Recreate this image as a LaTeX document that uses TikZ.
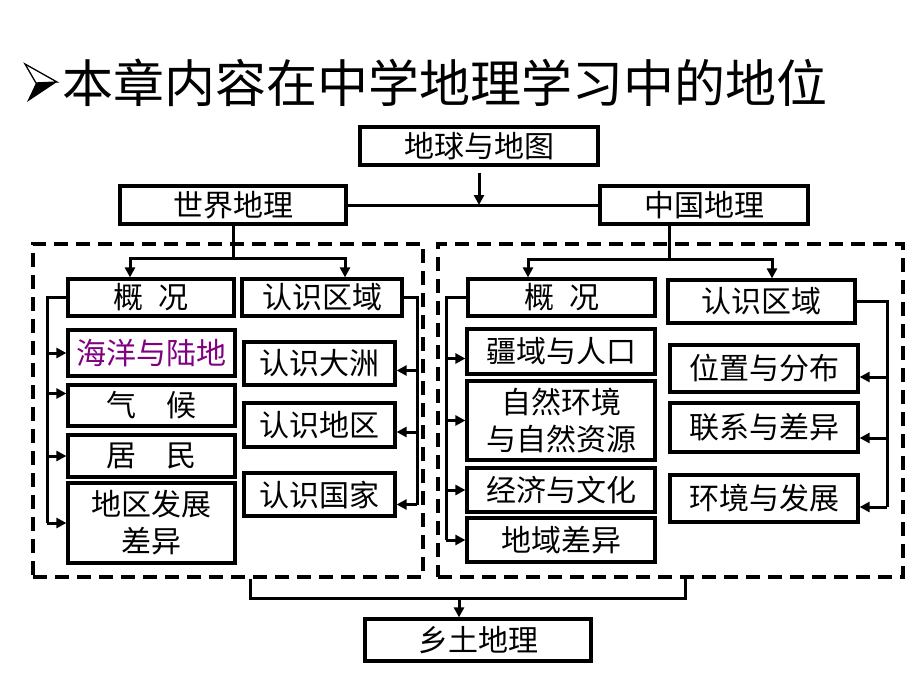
\documentclass[tikz,border=0pt]{standalone}
\usepackage{fontspec}
\setmainfont{Noto Sans CJK SC}
\usetikzlibrary{arrows.meta}
\definecolor{purp}{RGB}{128,0,128}
\begin{document}
\begin{tikzpicture}[x=1pt,y=-1pt,
  bx/.style={draw, line width=3.2pt, inner sep=0pt, font=\fontsize{30}{37}\selectfont, align=center},
  con/.style={line width=3pt},
  arr/.style={line width=3pt, -{Triangle[length=10pt,width=10pt]}},
  dbox/.style={draw, line width=3.5pt, dash pattern=on 14pt off 8pt, inner sep=0pt}]
\useasboundingbox[fill=white] (0,0) rectangle (920,690);

% title bullet (arrowhead mark)
\draw[line width=1.3pt, line join=miter] (25,64) -- (57,82) -- (36,83) -- cycle;
\fill (36,83) -- (57,82) -- (27,102) -- cycle;
\node[anchor=west, inner sep=0pt, font=\fontsize{51}{51}\selectfont] (title) at (62,83) {本章内容在中学地理学习中的地位};

% dashed frames
\node[dbox, minimum width=390pt, minimum height=333pt] (Lbox) at (228,410.5) {};
\node[dbox, minimum width=465pt, minimum height=333pt] (Rbox) at (670.5,410.5) {};

% top level
\node[bx, minimum width=238pt, minimum height=38pt] (earth) at (479,146) {地球与地图};
\node[bx, minimum width=226pt, minimum height=38pt] (world) at (233,205) {世界地理};
\node[bx, minimum width=208pt, minimum height=38pt] (china) at (704,205) {中国地理};

% world geography
\node[bx, minimum width=166pt, minimum height=37pt] (Lgk) at (151,297.5) {概\hspace{0.5em}况};
\node[bx, minimum width=160pt, minimum height=37pt] (Lrs) at (322,297.5) {认识区域};
\node[bx, minimum width=167pt, minimum height=46pt, text=purp] (L1) at (151.5,353) {海洋与陆地};
\node[bx, minimum width=167pt, minimum height=41pt] (L2) at (151.5,405.5) {气\hspace{1em}候};
\node[bx, minimum width=167pt, minimum height=42pt] (L3) at (151.5,456) {居\hspace{1em}民};
\node[bx, minimum width=167pt, minimum height=80pt] (L4) at (151.5,523) {地区发展\\差异};
\node[bx, minimum width=151pt, minimum height=43pt] (R1) at (319.5,363.5) {认识大洲};
\node[bx, minimum width=151pt, minimum height=44pt] (R2) at (319.5,425) {认识地区};
\node[bx, minimum width=151pt, minimum height=43pt] (R3) at (319.5,494.5) {认识国家};

% china geography
\node[bx, minimum width=187pt, minimum height=37pt] (Cgk) at (561.5,297.5) {概\hspace{0.5em}况};
\node[bx, minimum width=187pt, minimum height=43pt] (Crs) at (761.5,301.5) {认识区域};
\node[bx, minimum width=188pt, minimum height=45pt] (C1) at (561,351.5) {疆域与人口};
\node[bx, minimum width=188pt, minimum height=79pt] (C2) at (561,420.5) {自然环境\\与自然资源};
\node[bx, minimum width=188pt, minimum height=44pt] (C3) at (561,490) {经济与文化};
\node[bx, minimum width=188pt, minimum height=44pt] (C4) at (561,540) {地域差异};
\node[bx, minimum width=188pt, minimum height=47pt] (D1) at (764,368.5) {位置与分布};
\node[bx, minimum width=188pt, minimum height=49pt] (D2) at (764,427.5) {联系与差异};
\node[bx, minimum width=188pt, minimum height=47pt] (D3) at (764,498.5) {环境与发展};

% home
\node[bx, minimum width=226pt, minimum height=42pt] (home) at (478,640) {乡土地理};

% top connectors
\draw[con] (world.east) -- (china.west);
\draw[arr, shorten <=6pt] (earth.south) -- (earth.south |- world.east);

% world split
\coordinate (LA) at (130,258);
\coordinate (LB) at (345,258);
\draw[arr] (world.south) |- (LA) -- (LA |- Lgk.north);
\draw[arr] (world.south |- LA) -| (LB |- Lrs.north);

% china split
\coordinate (CJ) at (669,259);
\coordinate (CA) at (528,259);
\coordinate (CB) at (772,259);
\draw[arr] (china.south -| CJ) |- (CA) -- (CA |- Cgk.north);
\draw[arr] (CJ) -| (CB |- Crs.north);

% world left bracket
\coordinate (Lbr) at (47,0);
\coordinate (L2a) at ([yshift=12pt]L2.west);
\draw[con] (Lgk.west) -| (Lbr |- L4.west);
\draw[arr] (Lbr |- L1.west) -- (L1.west);
\draw[arr] (Lbr |- L2a) -- (L2a);
\draw[arr] (Lbr |- L3.west) -- (L3.west);
\draw[arr] (Lbr |- L4.west) -- (L4.west);

% world right bracket
\coordinate (Rbr) at (417,0);
\coordinate (R1a) at ([yshift=-7pt]R1.east);
\coordinate (R2a) at ([yshift=-7pt]R2.east);
\coordinate (R3a) at ([yshift=-10pt]R3.east);
\draw[con] (Lrs.east) -| (Rbr |- R3a);
\draw[arr] (Rbr |- R1a) -- (R1a);
\draw[arr] (Rbr |- R2a) -- (R2a);
\draw[arr] (Rbr |- R3a) -- (R3a);

% china left bracket
\coordinate (Cbr) at (446,0);
\coordinate (C1a) at ([yshift=-7pt]C1.west);
\draw[con] (Cgk.west) -| (Cbr |- C4.west);
\draw[arr] (Cbr |- C1a) -- (C1a);
\draw[arr] (Cbr |- C2.west) -- (C2.west);
\draw[arr] (Cbr |- C3.west) -- (C3.west);
\draw[arr] (Cbr |- C4.west) -- (C4.west);

% china right bracket
\coordinate (Dbr) at (887,0);
\coordinate (D1a) at ([yshift=-8.5pt]D1.east);
\coordinate (D2a) at ([yshift=-10.5pt]D2.east);
\coordinate (D3a) at ([yshift=-8.5pt]D3.east);
\draw[con] (Crs.east) -| (Dbr |- D3a);
\draw[arr] (Dbr |- D1a) -- (D1a);
\draw[arr] (Dbr |- D2a) -- (D2a);
\draw[arr] (Dbr |- D3a) -- (D3a);

% bottom
\coordinate (B1) at (250,598);
\coordinate (B2) at (685,598);
\coordinate (BM) at (459,598);
\draw[con] (B1 |- Lbox.south) -- (B1) -- (B2) -- (B2 |- Rbox.south);
\draw[arr] (BM) -- (BM |- home.north);
\end{tikzpicture}
\end{document}
